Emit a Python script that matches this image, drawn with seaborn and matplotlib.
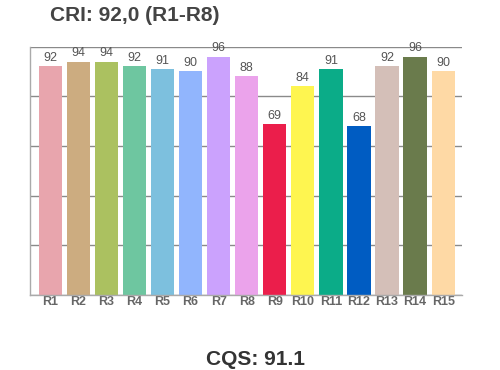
import numpy as np
import matplotlib
matplotlib.use("Agg")
import matplotlib.pyplot as plt
import pandas as pd
import seaborn as sns

labels = ["R1", "R2", "R3", "R4", "R5", "R6", "R7", "R8",
          "R9", "R10", "R11", "R12", "R13", "R14", "R15"]
values = [92, 94, 94, 92, 91, 90, 96, 88, 69, 84, 91, 68, 92, 96, 90]
colors = ["#E8A5AD", "#CCAC80", "#ABC160", "#6EC6A0", "#7DC0DE",
          "#91B5FD", "#CBA2FD", "#EBA3EB", "#EB1E4B", "#FEF550",
          "#0BAC88", "#005CC2", "#D4BFB8", "#6A7B4C", "#FED9A5"]
cri_title = "CRI: 92,0 (R1-R8)"
cqs_title = "CQS: 91.1"


def main():
    sns.set_style("white")
    plt.rcParams["font.family"] = ["Liberation Sans", "DejaVu Sans"]

    df = pd.DataFrame({"sample": labels, "value": values})

    fig = plt.figure(figsize=(5, 3.7), dpi=100)
    ax = fig.add_axes([0.06, 0.203, 0.864, 0.671])

    sns.barplot(data=df, x="sample", y="value", hue="sample", palette=colors,
                width=0.83, saturation=1, legend=False, ax=ax, zorder=2,
                linewidth=0, edgecolor="none")

    for i, v in enumerate(values):
        ax.annotate(str(v), (i, v), xytext=(0, 1.5), textcoords="offset points",
                    ha="center", va="bottom", fontsize=9, color="#555555")

    ax.set_ylim(0, 100)
    ax.set_xlim(-0.72, 14.67)
    ax.set_yticks(np.arange(0, 101, 20))
    ax.set_yticklabels([])
    ax.tick_params(axis="y", length=0)
    ax.tick_params(axis="x", length=0, pad=1)
    for lbl in ax.get_xticklabels():
        lbl.set_fontweight("bold")
        lbl.set_fontsize(9)
        lbl.set_color("#666666")
    ax.yaxis.grid(True, color="#8a8a8a", linewidth=1)
    ax.set_axisbelow(True)
    ax.set_xlabel("")
    ax.set_ylabel("")

    for side in ["top", "right"]:
        ax.spines[side].set_visible(False)
    for side in ["left", "bottom"]:
        ax.spines[side].set_color("#aaaaaa")
        ax.spines[side].set_linewidth(1)

    fig.text(0.27, 0.958, cri_title, ha="center", va="center",
             fontsize=15, fontweight="bold", color="#444444")
    fig.text(0.51, 0.004, cqs_title, ha="center", va="bottom",
             fontsize=15, fontweight="bold", color="#333333")

    fig.savefig("out.png", dpi=100)
    plt.close(fig)


if __name__ == "__main__":
    main()
